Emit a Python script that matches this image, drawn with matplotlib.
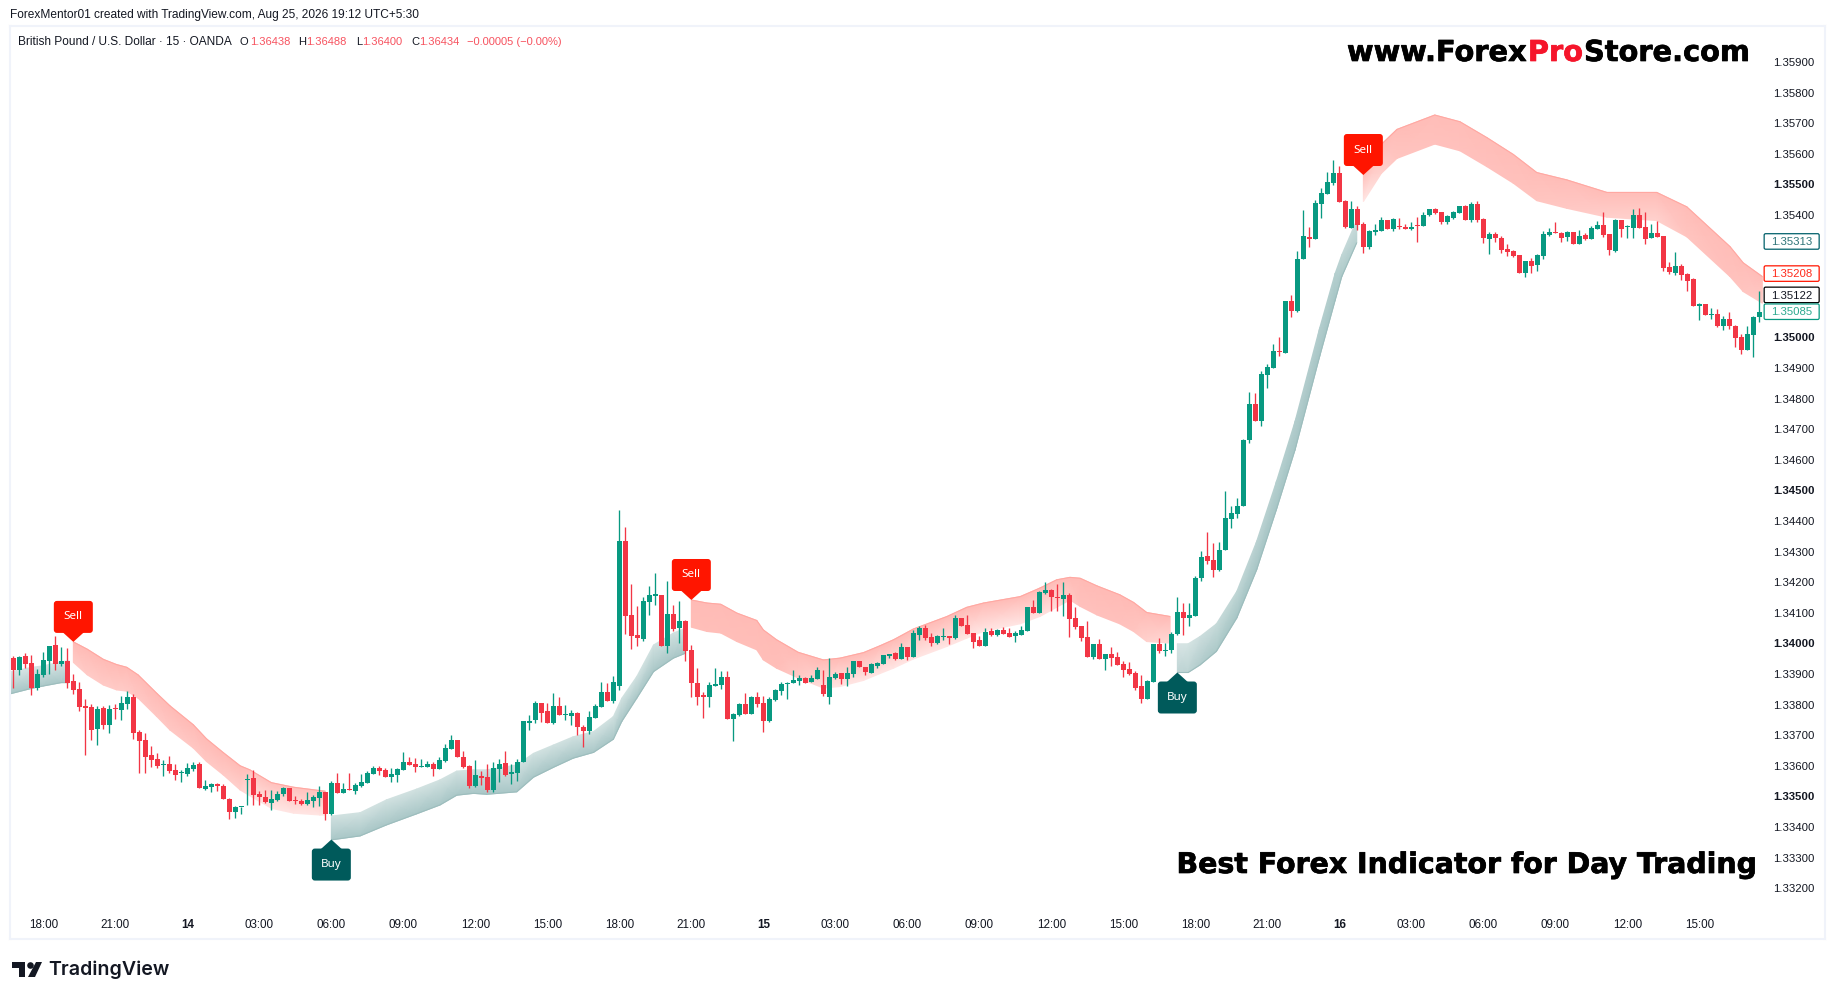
import numpy as np
import matplotlib
matplotlib.use("Agg")
import matplotlib.pyplot as plt
import matplotlib.patheffects as pe
from matplotlib.colors import LinearSegmentedColormap
from matplotlib.patches import FancyBboxPatch, Polygon, Circle
from matplotlib.transforms import IdentityTransform

# ---------- DATA (prices as points above 1.30000, 1 point = 0.00001) ----------
opens = [3953,3914,3959,3936,3854,3897,3943,3995,3933,3943,3878,3851,3796,3793,3721,3789,3734,3789,3783,3802,
3825,3711,3685,3636,3623,3603,3606,3587,3577,3574,3590,3606,3525,3531,3541,3534,3492,3449,3464,3554,
3561,3508,3498,3479,3489,3508,3528,3489,3485,3476,3485,3495,3515,3443,3544,3512,3525,3518,3534,3544,
3574,3593,3587,3564,3570,3587,3613,3606,3597,3597,3606,3590,3616,3655,3685,
3629,3600,3534,3567,3564,3521,3590,3609,3573,3577,
3613,3741,3750,3806,3780,3741,3796,3767,3763,3773,3727,3714,3757,3793,3842,3812,3861,4335,4094,4028,
4015,4136,4156,4159,3992,4097,4051,4074,3979,3871,3832,3826,3861,3865,3891,3754,3767,3803,3770,3826,
3806,3747,3816,3845,3868,3871,3878,3888,3875,3884,3865,3826,3888,3904,3884,3901,3943,3924,3904,3927,
3933,3960,3969,
3950,3989,3956,4028,4051,4021,4002,4021,4025,4018,4084,4061,4035,4012,3992,4041,4028,4044,4035,4025,
4028,4041,4120,4100,4165,4175,4152,4146,4159,4084,4057,4021,3956,3999,3950,3966,3956,3933,3917,3904,
3861,3819,3874,3999,3976,3979,4031,4103,4084,4090,4214,4286,4273,4240,4306,4407,4423,4450,
4665,4783,4727,4877,4900,4956,4949,5119,5087,5257,5328,5322,5436,
5469,5504,5537,5446,5358,5420,
5371,5296,5345,5348,5384,5354,5364,5361,5354,5368,5364,5400,5420,5410,5377,5390,5407,5430,5384,5436,
5387,5322,5338,5325,5289,5283,5270,5211,5250,5237,5266,5335,5345,5341,5328,5345,5305,5335,5322,5354,
5368,5338,5283,5384,5361,5358,5400,5361,5325,5341,5332,5230,5211,5234,5207,5191,5103,5109,5073,5077,
5037,5060,5037,5002,4959,5008,5067]
highs = [3959,3959,3969,3963,3917,3972,3992,4025,3989,3985,3900,3874,3819,3802,3796,3796,3799,3802,3829,3845,
3835,3717,3708,3665,3642,3619,3632,3606,3587,3610,3613,3613,3554,3544,3544,3541,3495,3469,3466,3574,
3587,3518,3521,3521,3518,3531,3528,3502,3492,3515,3505,3534,3515,3551,3577,3544,3577,3544,3574,3583,
3600,3600,3593,3593,3593,3646,3629,3626,3623,3616,3613,3629,3672,3701,3685,
3649,3603,3619,3583,3606,3613,3623,3649,3606,3623,
3747,3767,3812,3806,3806,3839,3826,3799,3783,3777,3734,3780,3803,3875,3871,3894,4437,4381,4195,4123,
4152,4188,4231,4159,4205,4126,4139,4077,3995,3920,3842,3875,3920,3911,3911,3773,3806,3839,3829,3842,
3829,3826,3852,3875,3875,3914,3897,3891,3897,3924,3914,3953,3907,3904,3924,3943,3943,3924,3937,3940,
3963,3966,3973,
4002,3989,4044,4057,4061,4035,4028,4051,4025,4093,4084,4093,4035,4025,4051,4051,4048,4054,4051,4041,
4057,4120,4142,4172,4201,4178,4195,4201,4165,4120,4057,4074,3999,4015,3966,3989,3972,3943,3940,3910,
3897,3881,3999,4018,4002,4038,4152,4133,4133,4221,4303,4365,4329,4332,4499,4450,4476,4669,
4822,4819,4891,4913,4979,5002,5119,5139,5283,5417,5361,5449,5487,
5541,5580,5560,5449,5446,5430,
5377,5351,5371,5394,5384,5390,5390,5371,5377,5394,5410,5420,5423,5410,5400,5413,5430,5433,5443,5446,
5390,5345,5345,5332,5305,5286,5270,5250,5260,5273,5348,5358,5377,5345,5348,5345,5351,5341,5364,5381,
5410,5338,5387,5384,5368,5420,5423,5410,5371,5381,5332,5247,5279,5240,5211,5194,5113,5109,5096,5093,
5070,5083,5041,5011,5037,5070,5152]
lows = [3855,3897,3920,3832,3848,3890,3900,3914,3927,3855,3835,3780,3636,3685,3668,3721,3708,3753,3750,3786,
3688,3577,3577,3597,3593,3567,3577,3554,3548,3567,3583,3528,3521,3515,3518,3492,3427,3430,3443,3472,
3472,3472,3479,3456,3485,3502,3485,3476,3472,3472,3466,3469,3423,3440,3512,3512,3521,3508,3531,3544,
3574,3570,3564,3548,3548,3587,3603,3580,3597,3597,3567,3590,3613,3655,3629,
3593,3528,3531,3538,3515,3515,3547,3567,3541,3551,
3613,3718,3741,3744,3741,3737,3767,3750,3734,3701,3662,3705,3757,3793,3812,3806,3848,4031,3982,3992,
4009,4094,4126,3992,3969,4041,4002,3943,3826,3799,3757,3793,3861,3852,3754,3682,3763,3770,3770,3793,
3711,3744,3812,3832,3819,3871,3865,3871,3875,3884,3829,3803,3884,3868,3861,3891,3924,3897,3904,3920,
3933,3953,3946,
3950,3946,3956,4012,4012,3992,3999,4012,3999,4015,4057,4031,3986,3992,3992,4025,4025,4031,4021,4005,
4028,4041,4100,4100,4162,4106,4106,4090,4021,4048,4008,3956,3950,3950,3914,3927,3930,3891,3897,3848,
3806,3819,3874,3969,3959,3969,4028,4028,4057,4090,4205,4260,4218,4237,4306,4378,4410,4450,
4655,4727,4711,4835,4900,4940,4949,5067,5083,5257,5296,5322,5390,
5469,5498,5443,5358,5358,5351,
5276,5289,5335,5348,5354,5348,5354,5354,5351,5312,5364,5397,5403,5371,5371,5387,5407,5384,5377,5377,
5309,5273,5312,5276,5266,5263,5211,5198,5211,5217,5256,5332,5341,5312,5315,5305,5305,5318,5322,5354,
5328,5270,5279,5328,5325,5325,5358,5305,5325,5328,5217,5207,5204,5188,5152,5103,5057,5073,5060,5034,
5024,5028,4969,4946,4959,4936,5051]
closes = [3914,3956,3933,3855,3900,3946,3992,3933,3943,3871,3848,3793,3789,3717,3786,3734,3786,3786,3806,3825,
3708,3682,3629,3619,3600,3606,3583,3570,3580,3593,3603,3528,3534,3541,3534,3492,3449,3466,3466,3557,
3505,3498,3482,3492,3508,3528,3485,3485,3476,3489,3498,3515,3443,3544,3512,3525,3521,3538,3548,3577,
3593,3583,3564,3574,3590,3613,3603,3597,3600,3606,3590,3619,3659,3685,3629,
3596,3534,3570,3560,3521,3593,3606,3570,3580,3613,
3747,3747,3806,3773,3741,3796,3767,3770,3773,3727,3714,3760,3796,3842,3812,3875,4335,4090,4025,4018,
4139,4159,4162,3992,4097,4048,4074,3976,3871,3826,3826,3865,3868,3891,3754,3770,3803,3770,3826,3803,
3747,3819,3848,3868,3871,3881,3888,3871,3888,3914,3835,3891,3901,3884,3904,3943,3924,3907,3933,3937,
3963,3966,3950,
3989,3956,4035,4051,4018,4002,4025,4025,4018,4084,4057,4031,4005,3992,4038,4028,4044,4031,4021,4035,
4044,4120,4100,4169,4175,4152,4149,4159,4080,4054,4018,3956,3999,3950,3966,3953,3930,3914,3901,3855,
3819,3878,3999,3976,3979,4031,4103,4084,4093,4214,4283,4270,4240,4306,4410,4427,4450,4665,
4783,4727,4881,4904,4956,4953,5119,5087,5257,5332,5322,5440,5472,
5508,5537,5443,5361,5420,5368,
5296,5348,5351,5384,5354,5387,5361,5354,5361,5364,5400,5420,5407,5377,5397,5410,5430,5384,5436,5384,
5325,5338,5325,5286,5279,5266,5211,5250,5234,5270,5338,5345,5341,5325,5345,5305,5332,5322,5358,5368,
5335,5286,5384,5354,5364,5400,5358,5322,5341,5328,5227,5214,5234,5204,5185,5103,5109,5073,5077,5037,
5060,5037,4998,4959,5011,5067,5083]

# Indicator ribbons: bar position, upper edge, lower edge (points above 1.30000)
teal0_pos = [-0.4,3,5,8,9.3]
teal0_top = [3908,3922,3927,3941,3943]
teal0_bot = [3836,3853,3861,3872,3872]

sell1_pos = [10,12.33,15,17.2,18.9,20.8,23.9,26.1,30,32.2,35,37.8,39.4,43,46.7,51.1,52]
sell1_top = [4005,3981,3948,3931,3922,3897,3837,3796,3734,3688,3643,3600,3587,3545,3530,3519,3517]
sell1_bot = [3938,3897,3864,3848,3844,3821,3761,3717,3658,3614,3570,3521,3502,3461,3445,3439,3439]

teal1_pos = [53,57.8,62.2,67.2,71.1,73.9,76.7,78.9,83.9,86.7,90,93.3,96.7,100,101.4,103.9,106.7,110,112]
teal1_top = [3436,3447,3489,3524,3554,3583,3587,3587,3603,3641,3668,3695,3712,3761,3821,3892,3995,4034,4050]
teal1_bot = [3358,3371,3407,3443,3472,3504,3510,3507,3515,3563,3595,3625,3644,3687,3745,3821,3908,3952,3968]

sell2_pos = [113,115.6,117.9,120.6,123.9,125,127.2,130.8,135,137.8,141.7,144.4,146.7,150,155.6,158.9,161.7,167.8,171.1,173.9,176.1,177.8,180.6,184.4,186.7,188.9,192.8]
sell2_top = [4142,4132,4128,4099,4075,4044,4012,3971,3946,3952,3970,3992,4012,4047,4088,4118,4132,4153,4181,4208,4216,4213,4188,4159,4134,4101,4088]
sell2_bot = [4053,4039,4034,4006,3979,3946,3919,3887,3854,3859,3879,3901,3919,3949,3990,4017,4039,4064,4088,4118,4142,4121,4093,4064,4039,4006,4001]

teal2_pos = [194,195.8,197.8,200.5,203.9,207.2,210.5,213.6,217.7,220.3,221.4,223.9]
teal2_top = [3999,3999,4023,4064,4170,4333,4529,4725,5030,5210,5270,5384]
teal2_bot = [3905,3905,3930,3974,4083,4240,4437,4632,4937,5122,5199,5310]

sell3_pos = [225,228,230.6,236.9,241.1,245.6,250,253.9,258.9,265.6,273.9,278.9,286.1,288.3,291.5]
sell3_top = [5539,5631,5680,5727,5705,5653,5598,5539,5515,5474,5474,5427,5297,5244,5199]
sell3_bot = [5444,5536,5585,5632,5610,5558,5504,5447,5422,5393,5382,5329,5199,5150,5112]

sell_bars = [10,113,225]
sell_tips = [4005,4142,5531]
buy_bars = [53,194]
buy_tips = [3359,3905]

y_ticks = [1.332 + k*0.001 for k in range(28)]
hidden_y = ['1.35100', '1.35200', '1.35300']   # covered by the last-value labels
x_tick_bars = [5 + 12*k for k in range(24)]
x_tick_labels = ['18:00','21:00','14','03:00','06:00','09:00','12:00','15:00',
                 '18:00','21:00','15','03:00','06:00','09:00','12:00','15:00',
                 '18:00','21:00','16','03:00','06:00','09:00','12:00','15:00']
last_labels = ['1.35313','1.35208','1.35122','1.35085']
last_prices = [5313,5208,5122,5085]

# ---------- STYLE ----------
UP, DOWN = '#089981', '#F23645'
BORDER = '#F0F3FA'
TICK_FONT = 'Liberation Sans'
W, H = 1835, 1000
PX_PT = 72/100

fig = plt.figure(figsize=(W/100, H/100), dpi=100, facecolor='white')
ax = fig.add_axes([10/W, 1-939/H, 1815/W, 913/H])
ax.set_xlim(-0.555, 301.94)
ax.set_ylim(1.33034, 1.36018)
for s in ax.spines.values():
    s.set_color(BORDER); s.set_linewidth(1.5)

def px(p):
    return 1.3 + np.asarray(p, dtype=float)*1e-5

red_map = LinearSegmentedColormap.from_list('r', ['#FFF3F2', '#FFB1AB'])
teal_map = LinearSegmentedColormap.from_list('t', ['#DDE9E8', '#A6C5C5'])

def ribbon(pos, top, bot, cmap, s_top, s_bot, edge, edge_vals):
    pos = np.asarray(pos, float)
    X = np.column_stack([pos, pos])
    Y = np.column_stack([px(top), px(bot)])
    C = np.column_stack([s_top, s_bot])
    ax.pcolormesh(X, Y, C, cmap=cmap, vmin=0, vmax=1, shading='gouraud', zorder=1)
    ax.plot(pos, px(edge_vals), color=edge, lw=0.8, zorder=1.1, solid_capstyle='butt')

ribbon(teal0_pos, teal0_top, teal0_bot, teal_map, [.1]*5, [.95]*5, '#9DBDBD', teal0_bot)
ribbon(teal1_pos, teal1_top, teal1_bot, teal_map,
       [.2]*19, [.95]*19, '#9DBDBD', teal1_bot)
ribbon(teal2_pos, teal2_top, teal2_bot, teal_map,
       [.1,.15,.3,.4,.5,.6,.7,.75,.75,.7,.5,.3],
       [.55,.6,.8,.9,1,1,1,1,1,1,.9,.7], '#9DBDBD', teal2_bot)
ribbon(sell1_pos, sell1_top, sell1_bot, red_map,
       [.85]*12+[.75]*5,
       [.6,.6,.6,.6,.6,.65,.65,.65,.65,.65,.6,.5,.25,.2,.2,.2,.2], '#FFA8A2', sell1_top)
ribbon(sell2_pos, sell2_top, sell2_bot, red_map,
       [.85]*27,
       [.8,.8,.8,.8,.8,.8,.8,.6,.3,.2,.2,.2,.2,.2,.2,.2,.2,.2,.25,.3,.6,.75,.75,.75,.7,.5,.4], '#FFA8A2', sell2_top)
ribbon(sell3_pos, sell3_top, sell3_bot, red_map,
       [.82]*15,
       [.15,.5,.7,.75,.75,.75,.75,.7,.65,.55,.5,.7,.75,.7,.6], '#FFA8A2', sell3_top)

# Candles
o, h, l, c = map(px, (opens, highs, lows, closes))
xs = np.arange(len(o))
cols = np.where(c >= o, UP, DOWN)
ax.vlines(xs, l, h, colors=cols, lw=0.95, zorder=2)
ax.bar(xs, np.maximum(np.abs(c-o), 4e-5), bottom=np.minimum(o, c), width=0.83,
       color=cols, linewidth=0, zorder=3)

# Axes ticks
ylabs = [f'{v:.5f}' for v in y_ticks]
ax.set_yticks(y_ticks)
ax.set_yticklabels(['' if s in hidden_y else s for s in ylabs],
                   fontfamily=TICK_FONT, fontsize=8.2, color='#131722')
ax.yaxis.tick_right()
ax.tick_params(axis='y', length=0, pad=-52*PX_PT)
for v, t in zip(y_ticks, ax.get_yticklabels()):
    if round(v*1000) % 5 == 0:
        t.set_fontweight('bold')
ax.set_xticks(x_tick_bars)
ax.set_xticklabels(x_tick_labels, fontfamily=TICK_FONT, fontsize=8.4, color='#131722')
ax.tick_params(axis='x', length=0, pad=-20*PX_PT)
for t in ax.get_xticklabels():
    if ':' not in t.get_text():
        t.set_fontweight('bold')

fig.canvas.draw()
idt = IdentityTransform()

def to_px(bar, pts):
    return ax.transData.transform((bar, 1.3 + pts*1e-5))

def signal(bar, tip, text, color, up):
    x, y = to_px(bar, tip)
    sgn = -1 if up else 1   # display y grows upward
    ax.add_patch(Polygon([(x, y), (x-11, y+sgn*10), (x+11, y+sgn*10)], closed=True,
                         transform=idt, facecolor=color, edgecolor='none', zorder=6))
    by = y - 9 - 32 if up else y + 9
    ax.add_patch(FancyBboxPatch((x-19.5, by), 39, 32, boxstyle='round,pad=0,rounding_size=3',
                                transform=idt, facecolor=color, edgecolor='none', zorder=6))
    ax.text(x, by+16, text, transform=idt, ha='center', va='center', color='white',
            fontsize=8.4, fontfamily='Noto Sans', fontweight='bold', zorder=7)

for b, t in zip(sell_bars, sell_tips):
    signal(b, t, 'Sell', '#FF1500', False)
for b, t in zip(buy_bars, buy_tips):
    signal(b, t, 'Buy', '#005A5B', True)

# Last value labels
box_edges = ['#00606A', '#FF1500', '#000000', '#089981']
box_text = ['#2E7478', '#FF2A1A', '#131722', '#2BA98F']
box_nudge = [0, 0, 5, -0.5]
for lab, p, ec, tc, dy in zip(last_labels, last_prices, box_edges, box_text, box_nudge):
    bx, by = to_px(291.8, p)
    by += dy
    ax.add_patch(FancyBboxPatch((bx, by-7.5), 55, 15.5, boxstyle='round,pad=0,rounding_size=1.5',
                                transform=idt, facecolor='white', edgecolor=ec, lw=0.9, zorder=8))
    ax.text(bx+27.5, by-0.5, lab, transform=idt, ha='center', va='center', color=tc,
            fontsize=8.2, fontfamily=TICK_FONT, zorder=9)

# Figure texts (pixel placement)
def ftext(x, y, s, **kw):
    return fig.text(x/W, 1-y/H, s, va='center', **kw)

ftext(9.5, 14.7, 'ForexMentor01 created with TradingView.com, Aug 25, 2026 19:12 UTC+5:30',
      color='#131722', fontsize=8.55, fontfamily=TICK_FONT)
LEG = '#131722'; LEGR = '#F7525F'
ftext(18, 42, 'British Pound / U.S. Dollar · 15 · OANDA', color=LEG, fontsize=8.55, fontfamily=TICK_FONT)
for x, s, col in [(240, 'O', LEG), (250, '1.36438', LEGR),
                  (298, 'H', LEG), (306, '1.36488', LEGR), (356, 'L', LEG), (362, '1.36400', LEGR),
                  (411, 'C', LEG), (419, '1.36434', LEGR), (467, '−0.00005 (−0.00%)', LEGR)]:
    ftext(x, 42, s, color=col, fontsize=8.0, fontfamily=TICK_FONT)

heavy = [pe.withStroke(linewidth=0.5, foreground='black')]
heavy_red = [pe.withStroke(linewidth=0.5, foreground='#F5152B')]
r = fig.canvas.get_renderer()
xcur = 1347
for s, col, fx in [('www.Forex', 'black', heavy), ('Pro', '#F5152B', heavy_red), ('Store.com', 'black', heavy)]:
    t = ftext(xcur, 53, s, color=col, fontsize=20.75, fontfamily='DejaVu Sans', fontweight='bold', path_effects=fx)
    xcur += t.get_window_extent(r).width + 1

ftext(1176.5, 865, 'Best Forex Indicator for Day Trading', color='black', fontsize=20.45,
      fontfamily='DejaVu Sans', fontweight='bold', path_effects=heavy)

# TradingView logo
def P(x, y):
    return (x, H - y)
for poly in ([P(12,962), P(25,962), P(25,977), P(19,977), P(19,968), P(12,968)],
             [P(36,962), P(42,962), P(35,977), P(28,977)]):
    fig.add_artist(Polygon(poly, closed=True, transform=idt, facecolor='#131722', edgecolor='none'))
fig.add_artist(Circle(P(30.5,965.5), 3.3, transform=idt, facecolor='#131722', edgecolor='none'))
ftext(48.5, 969.5, 'TradingView', color='#131722', fontsize=14.1, fontfamily='Inter', fontweight='semibold')

fig.savefig('out.png', dpi=100, facecolor='white')
